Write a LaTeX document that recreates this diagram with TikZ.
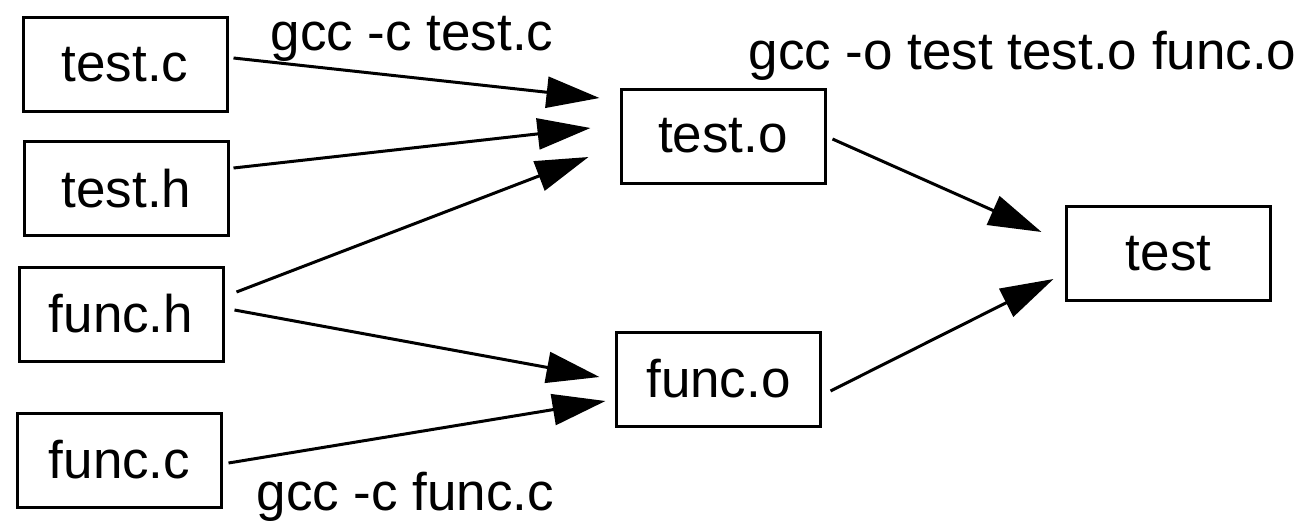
\documentclass[tikz,border=0pt]{standalone}
\usepackage{fontspec}
\setmainfont{Liberation Sans}
\usetikzlibrary{arrows.meta,calc}
\begin{document}
\begin{tikzpicture}[x=1pt,y=-1pt,
  box/.style={draw,line width=3pt,minimum width=204pt,minimum height=94pt,inner sep=0pt,
    font=\fontsize{53}{60}\selectfont},
  lab/.style={anchor=base,inner sep=0pt,font=\fontsize{53}{60}\selectfont},
  arr/.style={line width=3pt,-{Triangle[length=53pt,width=31pt]}}]
\useasboundingbox (0,0) rectangle (1306,523);
\node[box] (testc) at (125,64.5) {test.c};
\node[box] (testh) at (126.5,188.5) {test.h};
\node[box] (funch) at (121,314) {func.h};
\node[box] (funcc) at (119.5,460) {func.c};
\node[box] (testo) at (723,136) {test.o};
\node[box] (funco) at (718.5,379) {func.o};
\node[box] (test) at (1168.5,253.5) {test};
\node[lab] (l1) at (412,50) {gcc -c test.c};
\node[lab] (l2) at (1022.5,69) {gcc -o test test.o func.o};
\node[lab] (l3) at (405.5,510) {gcc -c func.c};
\draw[arr] ($(testc.east)+(5,-6.5)$) -- ($(testo.west)+(-20,-38)$);
\draw[arr] ($(testh.east)+(3.5,-20.5)$) -- ($(testo.west)+(-29,-8)$);
\draw[arr] ($(funch.east)+(12,-22)$) -- ($(testo.west)+(-31,21)$);
\draw[arr] ($(funch.east)+(10,-4)$) -- ($(funco.west)+(-15.5,-2)$);
\draw[arr] ($(funcc.east)+(5.5,3)$) -- ($(funco.west)+(-9.5,22)$);
\draw[arr] ($(testo.east)+(6,3)$) -- ($(test.west)+(-23.5,-21.5)$);
\draw[arr] ($(funco.east)+(8.5,12)$) -- ($(test.west)+(-11.5,25.5)$);
\end{tikzpicture}
\end{document}
